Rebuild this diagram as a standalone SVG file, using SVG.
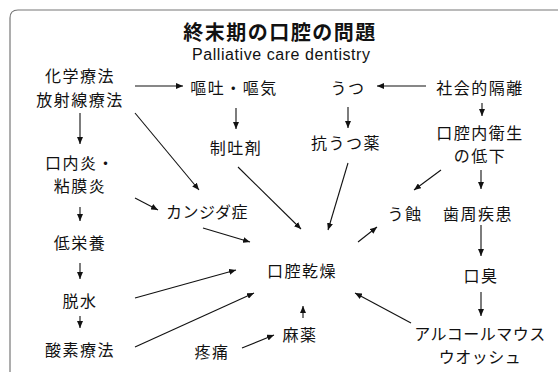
<svg xmlns="http://www.w3.org/2000/svg" width="558" height="372" viewBox="0 0 558 372">
<style>
.n{font-family:"Noto Sans CJK JP","Noto Sans CJK SC",sans-serif;font-size:16px;letter-spacing:1.5px;text-anchor:middle;dominant-baseline:central;fill:#111}
.k{letter-spacing:0.5px}
.c line{stroke:#111;stroke-width:1.1;marker-end:url(#ah)}
</style>
<defs>
<marker id="ah" markerUnits="userSpaceOnUse" markerWidth="7" markerHeight="6" refX="7" refY="3" orient="auto"><path d="M0,0 L7,3 L0,6 z" fill="#111"/></marker>
</defs>
<rect width="558" height="372" fill="#fff"/>
<path d="M10,372 V18 Q10,10 18,10 H558" fill="none" stroke="#777" stroke-width="1.2"/>
<g id="title">
<text x="280" y="31" style="font-family:'Noto Sans CJK JP',sans-serif;font-size:20px;font-weight:bold;letter-spacing:1.5px;text-anchor:middle;dominant-baseline:central;fill:#111">終末期の口腔の問題</text>
<text x="281" y="60" textLength="178" lengthAdjust="spacing" style="font-family:'Liberation Sans',Arial,sans-serif;font-size:16px;text-anchor:middle;fill:#111">Palliative care dentistry</text>
</g>
<g id="n-kagaku"><text class="n" x="80" y="75">化学療法<tspan x="80" dy="23.5">放射線療法</tspan></text></g>
<g id="n-outo"><text class="n" x="234" y="87">嘔吐・嘔気</text></g>
<g id="n-utsu"><text class="n" x="348" y="87">うつ</text></g>
<g id="n-shakai"><text class="n" x="480" y="87">社会的隔離</text></g>
<g id="n-seito"><text class="n" x="236" y="147">制吐剤</text></g>
<g id="n-kouutsu"><text class="n" x="346" y="142">抗うつ薬</text></g>
<g id="n-eisei"><text class="n" x="480" y="131.5">口腔内衛生<tspan x="480" dy="23.5">の低下</tspan></text></g>
<g id="n-kounaien"><text class="n" x="80" y="161.5">口内炎・<tspan x="80" dy="23.5">粘膜炎</tspan></text></g>
<g id="n-candida"><text class="n k" x="207" y="211">カンジダ症</text></g>
<g id="n-ushoku"><text class="n" x="405" y="213">う蝕</text></g>
<g id="n-shishu"><text class="n" x="478" y="213">歯周疾患</text></g>
<g id="n-teieiyou"><text class="n" x="80" y="242">低栄養</text></g>
<g id="n-kansou"><text class="n" x="302" y="270">口腔乾燥</text></g>
<g id="n-koushuu"><text class="n" x="481" y="275">口臭</text></g>
<g id="n-dassui"><text class="n" x="80" y="300">脱水</text></g>
<g id="n-mayaku"><text class="n" x="300" y="334">麻薬</text></g>
<g id="n-alcohol"><text class="n k" x="480" y="332.5">アルコールマウス<tspan x="480" dy="23.5">ウオッシュ</tspan></text></g>
<g id="n-sanso"><text class="n" x="80" y="349">酸素療法</text></g>
<g id="n-toutsuu"><text class="n" x="212" y="351">疼痛</text></g>
<g id="connectors" class="c">
<line x1="135" y1="86" x2="183" y2="86"/>
<line x1="426" y1="86" x2="377" y2="86"/>
<line x1="80" y1="113" x2="80" y2="144"/>
<line x1="135" y1="113" x2="199" y2="190"/>
<line x1="236" y1="108" x2="236" y2="129"/>
<line x1="348" y1="107" x2="348" y2="128"/>
<line x1="482" y1="103" x2="482" y2="116"/>
<line x1="238" y1="167" x2="301" y2="229"/>
<line x1="348" y1="163" x2="328" y2="230"/>
<line x1="441" y1="170" x2="414" y2="190"/>
<line x1="481" y1="170" x2="481" y2="189"/>
<line x1="135" y1="198" x2="158" y2="210"/>
<line x1="80" y1="207" x2="80" y2="221"/>
<line x1="203" y1="228" x2="250" y2="242"/>
<line x1="358" y1="242" x2="377" y2="227"/>
<line x1="481" y1="225" x2="481" y2="256"/>
<line x1="80" y1="263" x2="80" y2="279"/>
<line x1="135" y1="298" x2="236" y2="270"/>
<line x1="481" y1="292" x2="481" y2="316"/>
<line x1="411" y1="323" x2="355" y2="293"/>
<line x1="80" y1="316" x2="80" y2="328"/>
<line x1="135" y1="347" x2="254" y2="293"/>
<line x1="303" y1="318" x2="303" y2="306"/>
<line x1="242" y1="348" x2="274" y2="335"/>
</g>
</svg>
